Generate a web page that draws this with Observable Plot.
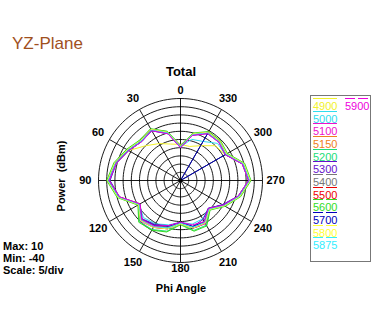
<!DOCTYPE html>
<html><head><meta charset="utf-8">
<script src="https://cdn.jsdelivr.net/npm/d3@7"></script>
<script src="https://cdn.jsdelivr.net/npm/@observablehq/plot@0.6"></script>
<style>
body{margin:0;background:#fff;}
#wrap{position:relative;width:374px;height:326px;overflow:hidden;font-family:"Liberation Sans",Arial,sans-serif;}
#wrap svg{position:absolute;left:0;top:0;}
.t{position:absolute;white-space:nowrap;}
.b{font-weight:bold;font-size:11px;color:#000;}
#legend{position:absolute;left:310px;top:95px;width:59px;height:165px;border:1px solid #777;box-sizing:content-box;}
.lg{position:absolute;font-size:11px;line-height:12px;}
.ln{position:absolute;height:1px;}
</style></head><body><div id="wrap"></div>
<script>
// ---- data ----
const angles = [0,15,30,45,60,75,90,105,120,135,150,165,180,195,210,225,240,255,270,285,300,315,330,345];
const seriesNames = ["4900","5000","5100","5150","5200","5300","5400","5500","5600","5700","5800","5875","5900"];
const seriesColors = ["#F2F22A","#30DDEE","#EE10CC","#F08020","#22DD77","#6611CC","#777777","#EE0000","#33DD22","#0000BB","#FFFF33","#33EEFF","#EE00DD"];
const s4900 = [-18,-17,-14,-10,-3.5,0.5,3.5,-1.5,-11.5,-6.5,-8,-10.5,-14.5,-11,-11,-15,-10,-3.5,1.5,-1,-8.5,-10,-15.5,-18.5];
const s5000 = [-19.5,-10.5,-5,-6.5,-3.5,0.5,3,-1,-11,-8,-9.5,-12,-14.5,-12.5,-13,-16,-10.5,-3.5,1.5,-1,-8.5,-8,-12.5,-14];
const s5100 = [-19,-9.5,-4,-5.5,-2.5,1.5,4.5,-0.5,-10.5,-5,-7,-9.5,-13.5,-10,-9.5,-15,-9,-2.5,2.5,0,-7.5,-6,-6,-10.5];
const s5150 = [-18.5,-10,-4.5,-6,-3,1,4,-1,-11,-6,-7.5,-10,-14,-10.5,-10.5,-15.5,-9.5,-3,2,-0.5,-8,-6.5,-6.5,-11];
const s5200 = [-19,-9,-4,-5.5,-2.5,1.5,4.5,-0.5,-10.5,-4.5,-5.5,-8,-13.5,-8.5,-8.5,-15,-9,-2.5,2,0,-7.5,-6,-6,-10.5];
const s5300 = [-20,-10.5,-5,-6.5,-3.5,0.5,3,-1.5,-11.5,-7,-9,-11.5,-14.5,-11,-12.5,-16,-10.5,-3.5,1.5,-1,-8.5,-7,-7,-11.5];
const s5400 = [-19.5,-10,-4.5,-6,-3,1,4,-1,-11,-6.5,-8,-10,-14,-10.5,-11,-15.5,-10,-3,2,-0.5,-8,-6.5,-6.5,-11];
const s5500 = [-19,-9.5,-4,-6,-3,1,4,-1,-11,-6,-7,-9.5,-14,-10,-10.5,-15.5,-9.5,-3,2,-0.5,-8,-6,-6,-10.5];
const s5600 = [-18.5,-9,-3.5,-5,-2,2,5,0,-10,-4,-5,-7.5,-13,-8,-8,-14.5,-8.5,-2,3,0.5,-7,-5.5,-5.5,-10];
const s5700 = [-19,-10,-4.5,-6,-3,1,4,-1,-11,-6.5,-8.5,-11,-14.5,-11,-11,-16,-10,-3,2,-0.5,-8,-40,-6.5,-11];
const s5800 = [-19,-9.5,-4,-5.5,-2.5,1.5,4.5,-0.5,-10.5,-5.5,-7,-9.5,-13.5,-10,-10,-15,-9,-2.5,2.5,0,-7.5,-6,-6,-10.5];
const s5875 = [-19.5,-10,-4.5,-6,-3,1,4,-1,-11,-6,-7.5,-10,-14,-10.5,-10.5,-15.5,-9.5,-3,2,-0.5,-8,-6.5,-6.5,-11];
const s5900 = [-20,-10.5,-5,-6.5,-3.5,0.5,3.5,-1.5,-11.5,-6.5,-8,-11.5,-14.5,-12,-11,-16,-10,-3.5,1.5,-1,-8.5,-7,-7,-11.5];
const seriesValues = [s4900,s5000,s5100,s5150,s5200,s5300,s5400,s5500,s5600,s5700,s5800,s5875,s5900];
const ringLevels = [-35,-30,-25,-20,-15,-10,-5,0,5,10];
const spokeAngles = [0,30,60,90,120,150,180,210,240,270,300,330];
const angleLabels = ["0","30","60","90","120","150","180","210","240","270","300","330"];
const MAXV = 10, MINV = -40;

// ---- polar helpers (angle counter-clockwise from top) ----
const rad = v => (v - MINV) / (MAXV - MINV);
const toRad = a => a * Math.PI / 180;
const px = (r, a) => -r * Math.sin(toRad(a));
const py = (r, a) => r * Math.cos(toRad(a));

const rows = [];
seriesNames.forEach((name, i) => {
  const vals = seriesValues[i];
  angles.concat([360]).forEach((a, j) => {
    const r = rad(vals[j % angles.length]);
    rows.push({series: name, x: px(r, a), y: py(r, a)});
  });
});
const ringRows = [];
ringLevels.forEach(v => {
  for (let a = 0; a <= 360; a += 3) ringRows.push({level: v, x: px(rad(v), a), y: py(rad(v), a)});
});

const chart = Plot.plot({
  width: 374, height: 326,
  marginLeft: 98, marginRight: 112, marginTop: 98, marginBottom: 64,
  style: {fontFamily: '"Liberation Sans",Arial,sans-serif', background: "transparent", overflow: "visible"},
  x: {domain: [-1, 1], axis: null},
  y: {domain: [-1, 1], axis: null},
  color: {domain: seriesNames, range: seriesColors},
  marks: [
    Plot.line(ringRows, {x: "x", y: "y", z: "level", stroke: "#000", strokeWidth: 0.9}),
    Plot.link(spokeAngles, {x1: 0, y1: 0, x2: a => px(1, a), y2: a => py(1, a), stroke: "#000", strokeWidth: 0.9}),
    Plot.line(rows, {x: "x", y: "y", z: "series", stroke: "series", strokeWidth: 1}),
    Plot.dot([0], {x: 0, y: 0, r: 2, fill: "#000", stroke: "none"}),
    Plot.text(spokeAngles, {
      x: a => px(a === 0 ? 1.1 : a === 180 ? 1.07 : 1.16, a),
      y: a => py(a === 0 ? 1.1 : a === 180 ? 1.07 : 1.16, a),
      text: (a, i) => angleLabels[i], fontWeight: "bold", fontSize: 11, fill: "#000"})
  ]
});
const wrap = document.getElementById("wrap");
wrap.appendChild(chart);

function addText(txt, cls, left, top, extra) {
  const d = document.createElement("div");
  d.className = "t " + cls;
  d.textContent = txt;
  d.style.left = left + "px"; d.style.top = top + "px";
  if (extra) Object.assign(d.style, extra);
  wrap.appendChild(d);
  return d;
}
addText("YZ-Plane", "", 12, 34, {fontSize: "17px", color: "#A0501E"});
addText("Total", "b", 181, 64, {fontSize: "13px", transform: "translateX(-50%)"});
addText("Phi Angle", "b", 181, 282, {transform: "translateX(-50%)"});
addText("Power  (dBm)", "b", 61, 176, {transform: "translate(-50%,-50%) rotate(-90deg)", whiteSpace: "pre"});
addText("Max: 10", "b", 3, 240);
addText("Min: -40", "b", 3, 252);
addText("Scale: 5/div", "b", 3, 264);

// legend
const leg = document.createElement("div");
leg.id = "legend";
wrap.appendChild(leg);
seriesNames.forEach((name, i) => {
  const col = i < 12 ? 0 : 1;
  const row = i < 12 ? i : 0;
  const x = col === 0 ? 313 : 345;
  const cy = 106 + row * 12.66;
  const dashed = i >= 6;
  const w = col === 0 ? 24 : 23;
  const segs = dashed ? [[0, 10], [13, w - 13]] : [[0, w]];
  segs.forEach(([s, l]) => {
    const ln = document.createElement("div");
    ln.className = "ln";
    ln.style.left = (x + s) + "px"; ln.style.top = (cy - 8) + "px";
    ln.style.width = l + "px"; ln.style.background = seriesColors[i];
    wrap.appendChild(ln);
  });
  const t = document.createElement("div");
  t.className = "lg";
  t.textContent = name;
  t.style.left = x + "px"; t.style.top = (cy - 6) + "px";
  t.style.color = seriesColors[i];
  wrap.appendChild(t);
});
</script></body></html>
